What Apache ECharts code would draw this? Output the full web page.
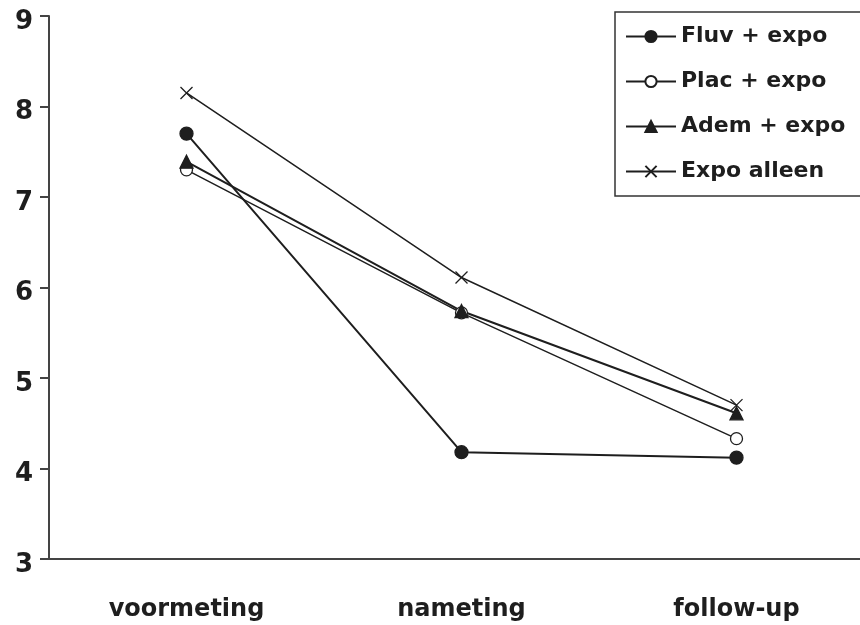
<!DOCTYPE html>
<html><head><meta charset="utf-8">
<script src="https://cdn.jsdelivr.net/npm/echarts@6/dist/echarts.min.js"></script>
<style>html,body{margin:0;padding:0;background:#fff;overflow:hidden}#c{width:880px;height:625px}</style>
</head><body><div id="c"></div>
<script>
const categories = ['voormeting', 'nameting', 'follow-up'];
const seriesNames = ['Fluv + expo', 'Plac + expo', 'Adem + expo', 'Expo alleen'];
const fluv = [7.70, 4.18, 4.12];
const plac = [7.30, 5.72, 4.33];
const adem = [7.39, 5.74, 4.61];
const expo = [8.15, 6.11, 4.70];
const yTicks = [3, 4, 5, 6, 7, 8, 9];

const ink = '#1e1e1e';
const font = 'DejaVu Sans';
const crossPath = 'path://M0,0L10,10M10,0L0,10';
const yMin = yTicks[0], yMax = yTicks[yTicks.length - 1];

const chart = echarts.init(document.getElementById('c'));
function mk(name, data, symbol, size, fill, lw) {
  return {
    name, type: 'line', data, symbol, symbolSize: size, showSymbol: true,
    xAxisIndex: 0, yAxisIndex: 0,
    lineStyle: { color: ink, width: lw },
    itemStyle: { color: fill, borderColor: ink, borderWidth: 1.3 },
    emphasis: { disabled: true }, animation: false, z: 3
  };
}
chart.setOption({
  animation: false,
  grid: [
    { left: 49, right: 6, top: 16, bottom: 66, containLabel: false },
    { left: 40, width: 9, top: 16, bottom: 66, containLabel: false }
  ],
  legend: {
    data: seriesNames, orient: 'vertical', left: 615, top: 12,
    itemWidth: 50, itemHeight: 14, itemGap: 20,
    padding: [12, 60, 12, 10],
    borderColor: '#333', borderWidth: 1.5, backgroundColor: '#fff',
    textStyle: { fontFamily: font, fontWeight: 'bold', fontSize: 22, lineHeight: 25, color: ink }
  },
  xAxis: [{
    type: 'category', data: categories, boundaryGap: true, gridIndex: 0,
    axisLine: { lineStyle: { color: '#444', width: 2 } },
    axisTick: { show: false },
    axisLabel: { fontFamily: font, fontWeight: 'bold', fontSize: 24, color: ink, margin: 39 }
  }, {
    type: 'value', gridIndex: 1, min: 0, max: 1, show: false
  }],
  yAxis: [{
    type: 'value', gridIndex: 0, min: yMin, max: yMax, interval: 1,
    axisLine: { show: true, lineStyle: { color: '#444', width: 2 } },
    axisTick: { show: false },
    splitLine: { show: false },
    axisLabel: { fontFamily: font, fontWeight: 'bold', fontSize: 26, color: ink, margin: 16,
                 formatter: '{d|{value}}', rich: { d: { fontFamily: font, fontWeight: 'bold', fontSize: 26, color: ink, padding: [12, 0, 0, 0] } } }
  }, {
    type: 'value', gridIndex: 1, min: yMin, max: yMax, interval: 1,
    axisLine: { show: false }, axisTick: { show: false }, axisLabel: { show: false },
    splitLine: { show: true, lineStyle: { color: '#444', width: 2 } }
  }],
  series: [
    mk(seriesNames[0], fluv, 'circle', 13, ink, 2),
    mk(seriesNames[1], plac, 'circle', 12, '#fff', 1.5),
    mk(seriesNames[2], adem, 'triangle', 13, ink, 2),
    mk(seriesNames[3], expo, crossPath, 12, ink, 1.5)
  ]
});
</script></body></html>
